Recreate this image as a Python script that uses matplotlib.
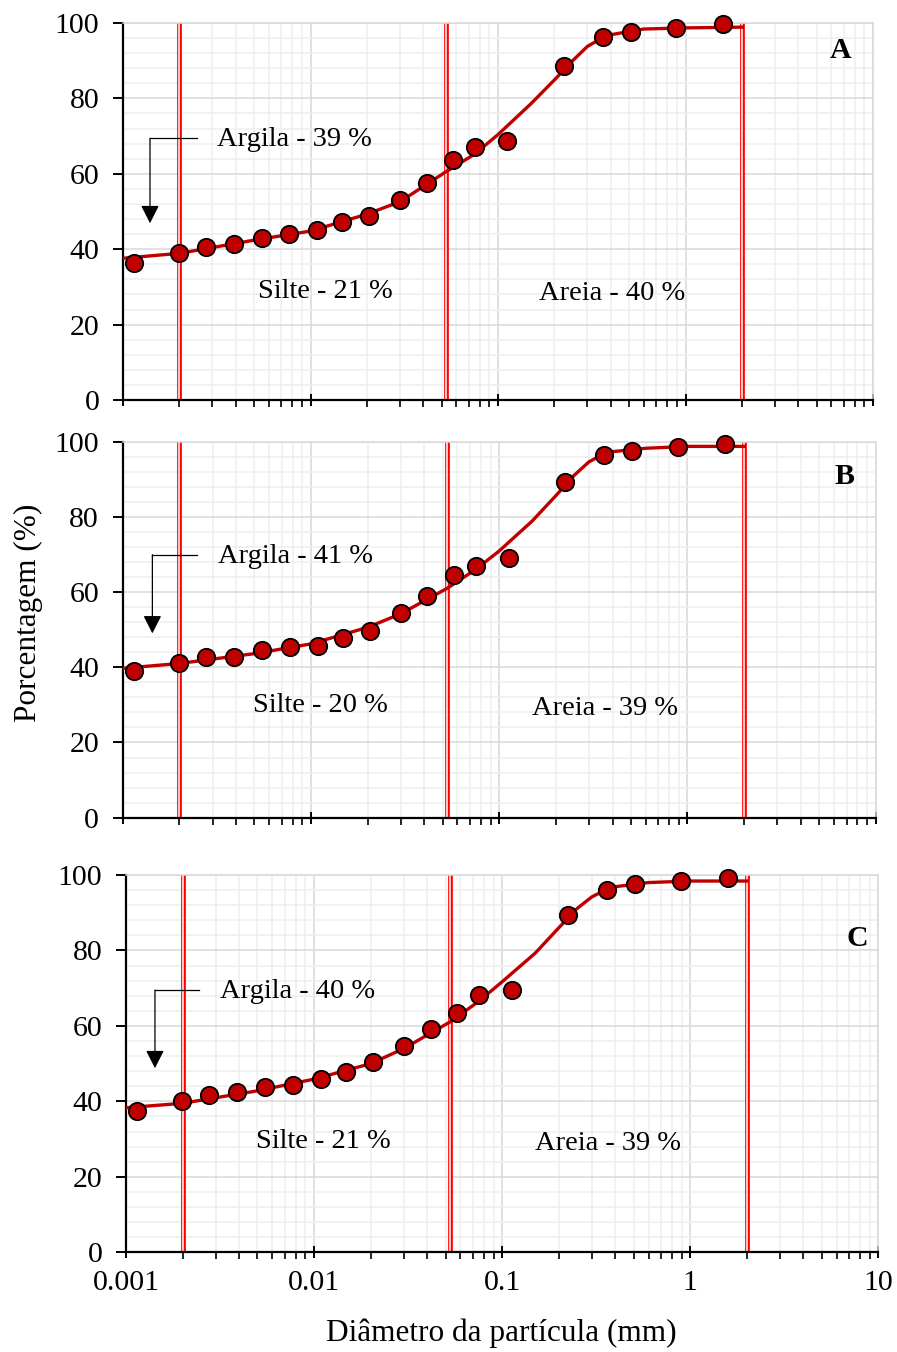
import numpy as np
import matplotlib
matplotlib.use('Agg')
import matplotlib.pyplot as plt
from matplotlib.ticker import FixedLocator, NullFormatter, AutoMinorLocator, LogLocator

plt.rcParams['font.family'] = ['Liberation Serif', 'DejaVu Serif']

# diametro das particulas (mm), igual nos tres paineis
diam = [0.00115, 0.00198, 0.00277, 0.0039, 0.0055, 0.0077, 0.01085, 0.01473,
        0.0206, 0.0300, 0.0416, 0.0573, 0.0750, 0.1123, 0.224, 0.361, 0.510,
        0.888, 1.585]

perc_A = [36.4, 39.1, 40.7, 41.3, 43.0, 44.0, 45.1, 47.1, 48.9, 53.0, 57.5,
          63.6, 67.0, 68.6, 88.7, 96.2, 97.7, 98.7, 99.7]
perc_B = [39.1, 41.2, 42.6, 42.8, 44.5, 45.3, 45.7, 47.8, 49.7, 54.5, 58.8,
          64.6, 67.0, 68.9, 89.3, 96.3, 97.6, 98.6, 99.4]
perc_C = [37.4, 40.2, 41.7, 42.4, 43.9, 44.4, 45.9, 47.7, 50.4, 54.8, 59.1,
          63.5, 68.2, 69.5, 89.4, 96.0, 97.5, 98.4, 99.3]

# curva ajustada
curva_x = [0.001, 0.002, 0.005, 0.01, 0.02, 0.03, 0.053, 0.075, 0.1, 0.15,
           0.2, 0.25, 0.3, 0.35, 0.4, 0.6, 1.0, 2.0]
curva_A = [37.6, 38.9, 42.4, 44.8, 49.3, 52.6, 60.6, 65.2, 70.4, 78.6,
           84.9, 90.0, 93.8, 95.7, 96.9, 98.4, 98.7, 98.9]
curva_B = [39.7, 41.0, 43.6, 46.2, 50.6, 54.2, 61.0, 66.0, 70.9, 78.9,
           85.6, 91.0, 94.6, 96.4, 97.3, 98.2, 98.7, 98.7]
curva_C = [38.3, 39.5, 42.8, 45.9, 50.0, 54.0, 61.1, 66.5, 71.7, 79.3,
           86.0, 91.1, 94.2, 95.9, 96.9, 98.0, 98.4, 98.4]

limites = [0.002, 0.053, 2.0]
letras = ['A', 'B', 'C']
argila = ['Argila - 39 %', 'Argila - 41 %', 'Argila - 40 %']
silte = ['Silte - 21 %', 'Silte - 20 %', 'Silte - 21 %']
areia = ['Areia - 40 %', 'Areia - 39 %', 'Areia - 39 %']
xticks = [0.001, 0.01, 0.1, 1, 10]
xticklabels = ['0.001', '0.01', '0.1', '1', '10']

W, H = 897, 1352
fig = plt.figure(figsize=(W / 100, H / 100), dpi=100)

# posicoes em pixels: esquerda, topo, direita, base
caixas = [(123, 23, 873, 400), (122.7, 441.5, 875.7, 817.7), (126, 875, 878.3, 1252.3)]
pos_txt = [
    dict(arg=(0.125, 0.690), sil=(0.270, 0.287), are=(0.652, 0.283), let=(0.957, 0.928),
         arr=(0.036, 0.098, 0.694, 0.469)),
    dict(arg=(0.126, 0.694), sil=(0.263, 0.297), are=(0.640, 0.291), let=(0.959, 0.907),
         arr=(0.0394, 0.0983, 0.699, 0.490)),
    dict(arg=(0.125, 0.691), sil=(0.263, 0.293), are=(0.641, 0.289), let=(0.972, 0.832),
         arr=(0.0385, 0.0975, 0.695, 0.488)),
]

dados = [perc_A, perc_B, perc_C]
curvas = [curva_A, curva_B, curva_C]
vermelho = '#C00000'

for i in range(3):
    l, t, r, b = caixas[i]
    ax = fig.add_axes([l / W, 1 - b / H, (r - l) / W, (b - t) / H])
    ax.set_xscale('log')
    ax.set_xlim(0.001, 10)
    ax.set_ylim(0, 100)
    ax.set_yticks([0, 20, 40, 60, 80, 100])
    ax.yaxis.set_minor_locator(AutoMinorLocator(5))
    ax.xaxis.set_major_locator(FixedLocator(xticks))
    ax.xaxis.set_minor_locator(LogLocator(base=10, subs=np.arange(2, 10)))
    ax.xaxis.set_minor_formatter(NullFormatter())
    if i == 2:
        ax.set_xticklabels(xticklabels)
    else:
        ax.set_xticklabels([])

    ax.grid(True, which='major', color='#d9d9d9', lw=1.1, zorder=0)
    ax.grid(True, which='minor', color='#efefef', lw=1.1, zorder=0)
    ax.set_axisbelow(True)
    for s in ['top', 'right']:
        ax.spines[s].set_color('#d9d9d9')
        ax.spines[s].set_linewidth(1.1)
    for s in ['left', 'bottom']:
        ax.spines[s].set_linewidth(1.6)

    ax.tick_params(axis='y', which='major', direction='out', length=7, width=1.4,
                   labelsize=21.5, pad=10)
    ax.tick_params(axis='y', which='minor', length=0)
    ax.tick_params(axis='x', which='major', direction='inout', length=9, width=1.4,
                   labelsize=21.5, pad=8)
    ax.tick_params(axis='x', which='minor', direction='out', length=5, width=1.2)

    for lim in limites:
        ax.axvline(lim, color='#ff0000', lw=3.4, zorder=2)
        ax.axvline(lim, color='white', lw=1.1, zorder=2)

    ax.plot(curva_x, curvas[i], color=vermelho, lw=2.4, zorder=3,
            solid_joinstyle='round')
    ax.plot(diam, dados[i], 'o', ms=12.5, mfc=vermelho, mec='black', mew=1.3,
            zorder=4, clip_on=False)

    p = pos_txt[i]
    ax.text(p['arg'][0], p['arg'][1], argila[i], transform=ax.transAxes,
            fontsize=20.5, ha='left', va='center')
    ax.text(p['sil'][0], p['sil'][1], silte[i], transform=ax.transAxes,
            fontsize=20.5, ha='center', va='center')
    ax.text(p['are'][0], p['are'][1], areia[i], transform=ax.transAxes,
            fontsize=20.5, ha='center', va='center')
    ax.text(p['let'][0], p['let'][1], letras[i], transform=ax.transAxes,
            fontsize=21.5, fontweight='bold', ha='center', va='center')

    x1, x2, yh, ytip = p['arr']
    ax.plot([x2, x1], [yh, yh], color='black', lw=0.9, transform=ax.transAxes, zorder=5)
    ax.annotate('', xy=(x1, ytip), xytext=(x1, yh), xycoords='axes fraction',
                textcoords='axes fraction',
                arrowprops=dict(arrowstyle='-|>,head_length=0.55,head_width=0.28',
                                color='black', lw=0.9, mutation_scale=20,
                                shrinkA=0, shrinkB=0), zorder=5)

fig.text(28 / W, 1 - 613 / H, 'Porcentagem (%)', rotation=90, fontsize=22.5,
         ha='center', va='center')
fig.text(501 / W, 1 - 1333 / H, 'Diâmetro da partícula (mm)', fontsize=22.5,
         ha='center', va='center')

fig.savefig('out.png', dpi=100)
